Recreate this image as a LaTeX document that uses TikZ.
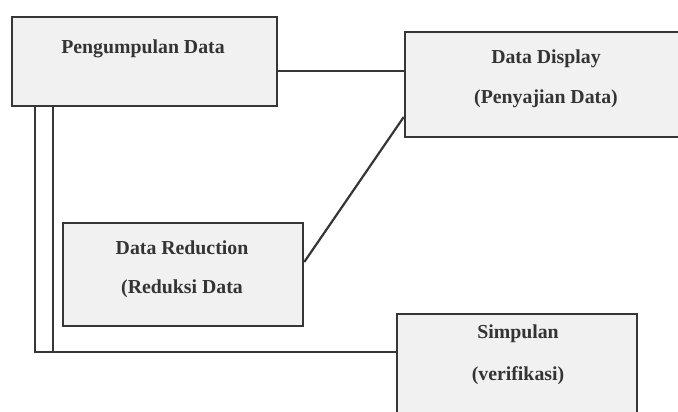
\documentclass[tikz,border=0pt]{standalone}
\usepackage{fontspec}
\setmainfont{Liberation Serif}
\definecolor{boxline}{HTML}{363636}
\definecolor{boxfill}{HTML}{F1F1F1}
\definecolor{txt}{HTML}{343434}
\begin{document}
\begin{tikzpicture}[x=1pt,y=-1pt,
  box/.style={draw=boxline,fill=boxfill,line width=2.5pt,inner sep=0pt,rectangle},
  lbl/.style={text=txt,font=\fontsize{19.8}{22}\selectfont\bfseries,inner sep=0pt,anchor=center},
  conn/.style={draw=boxline,line width=2.2pt}]
\useasboundingbox (0,0) rectangle (678,412);
\clip (0,0) rectangle (678,412);
\fill[white] (0,0) rectangle (678,412);
% boxes
\node[box,minimum width=265pt,minimum height=89pt] (peng) at (144.5,61.5) {};
\node[box,minimum width=285pt,minimum height=105pt] (disp) at (547.5,84.5) {};
\node[box,minimum width=240pt,minimum height=103pt] (red) at (183,274.5) {};
\node[box,minimum width=240pt,minimum height=116pt] (simp) at (517,372) {};
% labels
\node[lbl] (pengt) at (143,49) {Pengumpulan Data};
\node[lbl] (disp1) at (546,59) {Data Display};
\node[lbl] (disp2) at (546,99) {(Penyajian Data)};
\node[lbl] (red1) at (182,248) {Data Reduction};
\node[lbl] (red2) at (182,289) {(Reduksi Data};
\node[lbl] (simp1) at (518,334) {Simpulan};
\node[lbl] (simp2) at (518,376) {(verifikasi)};
% connectors
\draw[conn] (peng.east |- 0,71) -- (disp.west |- 0,71);
\draw[conn] (red.east |- 0,262) -- (disp.west |- 0,117);
\draw[conn] (peng.south -| 35,0) -- (35,352) -- (simp.west |- 0,352);
\draw[conn] (peng.south -| 53,0) -- (53,352);
\end{tikzpicture}
\end{document}
